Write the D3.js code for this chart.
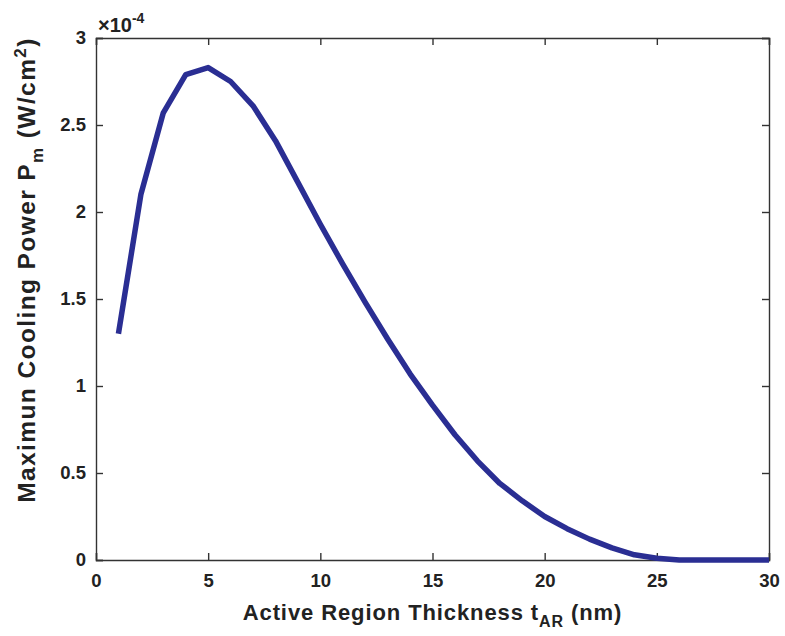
<!DOCTYPE html>
<html>
<head>
<meta charset="utf-8">
<script src="https://cdn.jsdelivr.net/npm/d3@7/dist/d3.min.js"></script>
<style>
  body { margin: 0; background: #fff; }
  svg text { font-family: "Liberation Sans", Arial, sans-serif; font-weight: bold; fill: #222; }
</style>
</head>
<body>
<svg id="chart" width="785" height="636"></svg>
<script>
// Active region thickness (nm)
const thickness = [1,2,3,4,5,6,7,8,9,10,11,12,13,14,15,16,17,18,19,20,21,22,23,24,25,26,27,28,29,30];
// Maximum cooling power, in units of 1e-4 W/cm^2
const coolingPower = [1.30,2.10,2.57,2.79,2.83,2.75,2.61,2.41,2.17,1.93,1.70,1.48,1.27,1.07,0.89,0.72,0.57,0.44,0.34,0.25,0.18,0.12,0.07,0.03,0.01,0.0,0.0,0.0,0.0,0.0];
const xTicks = [0,5,10,15,20,25,30];
const yTicks = [0,0.5,1,1.5,2,2.5,3];

const svg = d3.select("#chart");
const m = { left: 96, right: 16, top: 38, bottom: 76 };
const W = 785, H = 636;

const x = d3.scaleLinear().domain([0, 30]).range([m.left, W - m.right]);
const y = d3.scaleLinear().domain([0, 3]).range([H - m.bottom, m.top]);

const axisColor = "#333";
const tickLen = 7;

// bottom axis with inward ticks
const gx = svg.append("g").attr("transform", `translate(0,${y(0)})`)
  .call(d3.axisBottom(x).tickValues(xTicks).tickSize(-tickLen).tickPadding(13).tickFormat(d3.format("d")));
// top axis (ticks only)
const gxt = svg.append("g").attr("transform", `translate(0,${y(3)})`)
  .call(d3.axisTop(x).tickValues(xTicks).tickSize(-tickLen).tickFormat(""));
// left axis
const gy = svg.append("g").attr("transform", `translate(${x(0)},0)`)
  .call(d3.axisLeft(y).tickValues(yTicks).tickSize(-tickLen).tickPadding(10).tickFormat(d => d));
// right axis (ticks only)
const gyr = svg.append("g").attr("transform", `translate(${x(30)},0)`)
  .call(d3.axisRight(y).tickValues(yTicks).tickSize(-tickLen).tickFormat(""));

[gx, gxt, gy, gyr].forEach(g => {
  g.selectAll("path.domain").attr("stroke", axisColor).attr("stroke-width", 1.4);
  g.selectAll(".tick line").attr("stroke", axisColor).attr("stroke-width", 1.4);
  g.selectAll(".tick text").attr("font-size", 18.5).attr("font-weight", "bold")
    .attr("font-family", "Liberation Sans, Arial, sans-serif").attr("fill", "#222");
});
gx.selectAll(".tick text").attr("dy", "0.75em");

// curve
const line = d3.line().x((d, i) => x(thickness[i])).y(d => y(d));
svg.append("path")
  .datum(coolingPower)
  .attr("d", line)
  .attr("fill", "none")
  .attr("stroke", "#2a2e93")
  .attr("stroke-width", 5.5)
  .attr("stroke-linejoin", "round");

// exponent label
const ex = svg.append("text").attr("x", x(0) + 2).attr("y", 32).attr("font-size", 20).attr("font-weight", "normal");
ex.append("tspan").text("×10");
ex.append("tspan").attr("dy", -9).attr("font-size", 14).text("-4");

// x-axis title
const xt = svg.append("text").attr("x", (x(0) + x(30)) / 2).attr("y", 620)
  .attr("text-anchor", "middle").attr("font-size", 22).attr("letter-spacing", 0.9);
xt.append("tspan").text("Active Region Thickness t");
xt.append("tspan").attr("dy", 7).attr("font-size", 16).text("AR");
xt.append("tspan").attr("dy", -7).text(" (nm)");

// y-axis title
const yt = svg.append("text")
  .attr("transform", `translate(35,270) rotate(-90)`)
  .attr("text-anchor", "middle").attr("font-size", 24.5).attr("letter-spacing", 1.4);
yt.append("tspan").text("Maximun Cooling Power P");
yt.append("tspan").attr("dy", 8).attr("font-size", 17).text("m");
yt.append("tspan").attr("dy", -8).text(" (W/cm");
yt.append("tspan").attr("dy", -9).attr("font-size", 17).text("2");
yt.append("tspan").attr("dy", 9).text(")");
</script>
</body>
</html>
